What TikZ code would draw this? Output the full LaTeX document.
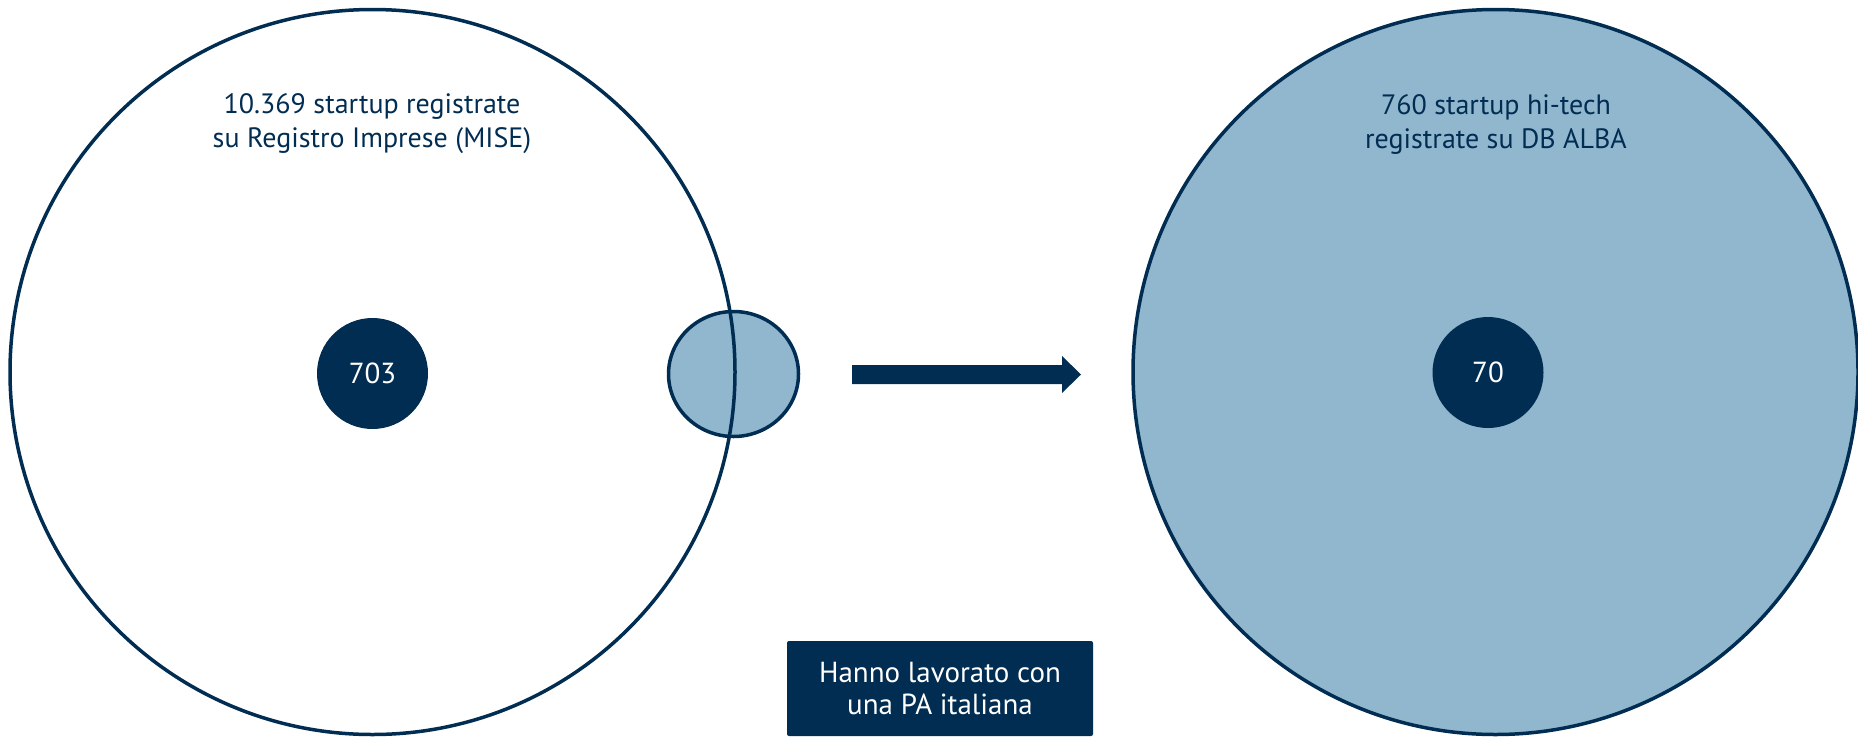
\documentclass[tikz,border=0pt]{standalone}
\usepackage{fontspec}
\setmainfont{PT Sans}
\usetikzlibrary{shapes.geometric}
\definecolor{navy}{RGB}{1,45,82}
\definecolor{lightblue}{RGB}{145,183,207}
\begin{document}
\begin{tikzpicture}[x=1pt,y=-1pt,
  outline/.style={draw=navy,line width=3.5pt},
  dot/.style={circle,fill=navy,text=white,minimum size=111pt,inner sep=0pt,font=\fontsize{29}{32}\selectfont},
  label/.style={text=navy,align=center,font=\fontsize{28}{34}\selectfont},
  boxnode/.style={fill=navy,text=white,rounded corners=2pt,minimum width=306pt,minimum height=95pt,align=center,font=\fontsize{29}{32}\selectfont}]
\useasboundingbox (0,0) rectangle (1858,737);
% right circle
\node (right) [circle,outline,fill=lightblue,minimum size=725pt,inner sep=0pt] at (1495.5,372) {};
% small intersection ellipse
\node (inter) [ellipse,outline,fill=lightblue,minimum width=130pt,minimum height=125pt,inner sep=0pt] at (733.5,374) {};
% left circle
\node (left) [circle,outline,minimum size=725pt,inner sep=0pt] at (372.5,372) {};
\node (dotL) [dot] at (372.5,373.5) {703};
\node (dotR) [dot] at (1488,372.5) {70};
\node (labL) [label] at (372,124) {10.369 startup registrate\\su Registro Imprese (MISE)};
\node (labR) [label] at (1496,124) {760 startup hi-tech\\registrate su DB ALBA};
\node (box) [boxnode] at (940,688.5) {Hanno lavorato con\\una PA italiana};
% arrow
\coordinate (a0) at (852,374.5);
\coordinate (a1) at (1081,374.5);
\fill[navy] (a0) ++(0,-9.5) -- (1062,365) -- (1062,356) -- (a1) -- (1062,393) -- (1062,384) -- (852,384) -- cycle;
\end{tikzpicture}
\end{document}
